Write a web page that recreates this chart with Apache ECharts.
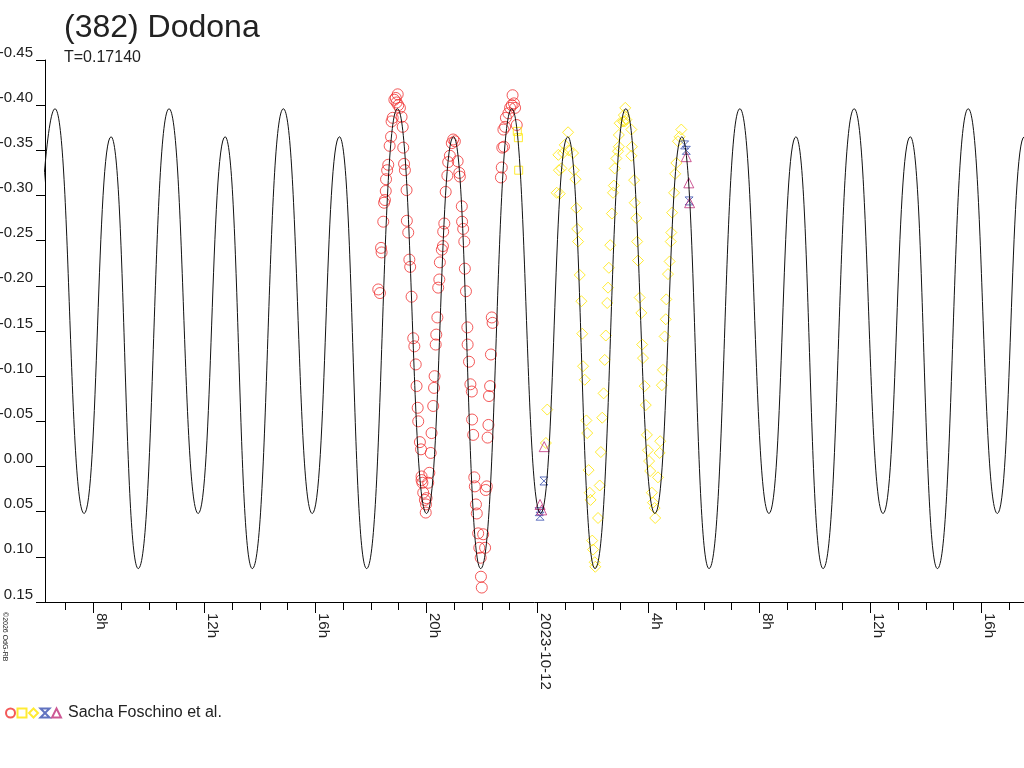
<!DOCTYPE html>
<html><head><meta charset="utf-8">
<script src="https://cdn.jsdelivr.net/npm/echarts@6/dist/echarts.min.js"></script>
<style>html,body{margin:0;padding:0;background:#fff}#c{width:1024px;height:768px}</style>
</head><body><div id="c"></div><script>
const FONT = '"Liberation Sans", Arial, sans-serif';
const TXT = '#222';

// Time axis: hours since 2023-10-11 00:00 UT
const xTickValues = [8, 12, 16, 20, 24, 28, 32, 36, 40];
const xTickLabels = ['8h', '12h', '16h', '20h', '2023-10-12', '4h', '8h', '12h', '16h'];
const hourTicks = [7,8,9,10,11,12,13,14,15,16,17,18,19,20,21,22,23,24,25,26,27,28,29,30,31,32,33,34,35,36,37,38,39,40,41];

// Model lightcurve extrema
const curveTime = [5.51, 6.62, 7.67, 8.64, 9.62, 10.73, 11.78, 12.75, 13.73, 14.85, 15.89, 16.87, 17.85,
  18.96, 20.01, 20.98, 21.96, 23.08, 24.12, 25.10, 26.08, 27.19, 28.24, 29.21, 30.19,
  31.30, 32.35, 33.32, 34.30, 35.42, 36.46, 37.44, 38.42, 39.53, 40.58, 41.55, 42.53];
const curveMag = [0.113, -0.396, 0.052, -0.365, 0.113, -0.396, 0.052, -0.365, 0.113, -0.396, 0.052, -0.365, 0.113,
  -0.396, 0.052, -0.365, 0.113, -0.396, 0.052, -0.365, 0.113, -0.396, 0.052, -0.365, 0.113,
  -0.396, 0.052, -0.365, 0.113, -0.396, 0.052, -0.365, 0.113, -0.396, 0.052, -0.365, 0.113];

// Observations [time (h), relative magnitude]
const redPoints = [[18.27,-0.196],[18.33,-0.192],[18.37,-0.242],[18.39,-0.237],[18.45,-0.271],[18.48,-0.292],[18.51,-0.295],[18.54,-0.305],[18.55,-0.318],[18.59,-0.328],[18.63,-0.334],[18.68,-0.355],[18.73,-0.365],[18.75,-0.382],[18.79,-0.386],[18.85,-0.406],[18.90,-0.408],[18.93,-0.403],[18.97,-0.412],[18.99,-0.400],
[19.05,-0.397],[19.11,-0.387],[19.15,-0.376],[19.17,-0.353],[19.20,-0.335],[19.23,-0.328],[19.29,-0.306],[19.30,-0.272],[19.35,-0.259],[19.39,-0.229],[19.42,-0.221],[19.47,-0.188],[19.53,-0.142],[19.57,-0.133],[19.62,-0.113],[19.65,-0.089],[19.69,-0.065],[19.71,-0.050],[19.77,-0.027],[19.81,-0.019],[19.83,0.011],[19.86,0.018],[19.89,0.029],[19.95,0.037],[19.98,0.051],
[19.99,0.042],[20.01,0.035],[19.83,0.015],[20.07,0.018],[20.11,0.007],[20.16,-0.015],[20.19,-0.037],[20.25,-0.067],[20.28,-0.087],[20.30,-0.100],[20.34,-0.135],[20.36,-0.146],[20.40,-0.165],[20.43,-0.198],[20.47,-0.207],[20.49,-0.226],[20.56,-0.240],[20.60,-0.244],[20.61,-0.260],[20.65,-0.269],[20.70,-0.304],[20.76,-0.322],[20.79,-0.337],[20.85,-0.344],[20.92,-0.358],[20.97,-0.362],
[21.03,-0.360],[21.13,-0.338],[21.19,-0.325],[21.21,-0.321],[21.28,-0.288],[21.29,-0.271],[21.33,-0.263],[21.37,-0.249],[21.39,-0.219],[21.43,-0.194],[21.48,-0.154],[21.49,-0.135],[21.54,-0.116],[21.59,-0.091],[21.64,-0.083],[21.65,-0.052],[21.69,-0.035],[21.73,0.012],[21.75,0.022],[21.79,0.042],[21.82,0.052],[21.87,0.074],[21.91,0.090],[21.96,0.101],[21.97,0.122],[22.00,0.134],
[22.05,0.075],[22.12,0.090],[22.14,0.026],[22.18,0.022],[22.21,-0.032],[22.24,-0.046],[22.26,-0.078],[22.30,-0.089],[22.33,-0.124],[22.36,-0.165],[22.39,-0.159],
[22.69,-0.320],[22.72,-0.331],[22.74,-0.353],[22.78,-0.373],[22.80,-0.354],[22.84,-0.376],[22.87,-0.386],[22.96,-0.391],[23.02,-0.397],[23.08,-0.400],[23.11,-0.411],[23.16,-0.402],[23.20,-0.397],[23.26,-0.378]];

const yellowSquares = [[23.28,-0.371],[23.32,-0.364],[23.33,-0.328]];

const yellowDiamonds = [[24.31,-0.026],[24.36,-0.063],[24.70,-0.303],[24.76,-0.345],[24.78,-0.328],[24.81,-0.302],[24.87,-0.330],[24.93,-0.347],[24.99,-0.356],[25.11,-0.370],[25.13,-0.350],[25.29,-0.347],[25.32,-0.328],[25.38,-0.318],[25.41,-0.286],[25.44,-0.263],[25.47,-0.249],[25.53,-0.212],[25.59,-0.183],[25.62,-0.147],[25.65,-0.111],[25.71,-0.096],[25.77,-0.051],[25.80,-0.037],[25.85,0.004],[25.89,0.029],[25.92,0.037],[25.98,0.082],[26.01,0.092],[26.07,0.106],[26.09,0.111],
[26.19,0.057],[26.25,0.021],[26.29,-0.016],[26.34,-0.054],[26.39,-0.081],[26.43,-0.118],[26.47,-0.145],[26.52,-0.181],[26.55,-0.198],[26.58,-0.220],[26.63,-0.245],[26.69,-0.280],[26.73,-0.303],[26.76,-0.311],[26.79,-0.330],[26.85,-0.341],[26.91,-0.349],[26.94,-0.367],[26.97,-0.380],[27.09,-0.382],
[27.12,-0.389],[27.15,-0.382],[27.17,-0.397],[27.21,-0.384],[27.39,-0.373],[27.41,-0.354],[27.39,-0.344],[26.94,-0.354],
[27.49,-0.317],[27.51,-0.292],[27.57,-0.275],[27.60,-0.249],[27.63,-0.228],[27.69,-0.187],[27.75,-0.170],[27.78,-0.135],[27.81,-0.120],[27.87,-0.089],[27.91,-0.068],[27.95,-0.035],[27.99,-0.018],[28.03,-0.006],[28.07,0.005],[28.13,0.029],[28.17,0.040],[28.23,0.046],[28.25,0.057],
[28.35,0.012],[28.41,-0.015],[28.43,-0.028],[28.49,-0.090],[28.53,-0.107],[28.59,-0.144],[28.63,-0.163],[28.65,-0.185],[28.71,-0.213],[28.77,-0.227],[28.81,-0.249],[28.83,-0.259],[28.86,-0.281],[28.93,-0.303],[28.97,-0.324],[29.01,-0.336],[29.07,-0.360],[29.13,-0.365],[29.19,-0.373]];

const blueHourglass = [[24.07,0.050],[24.10,0.055],[24.24,0.016],[29.31,-0.356],[29.37,-0.350],[29.47,-0.294]];
const magentaTriangles = [[24.10,0.042],[24.16,0.048],[24.25,-0.022],[29.37,-0.343],[29.46,-0.314],[29.49,-0.292]];

const LEGEND_TEXT = 'Sacha Foschino et al.';
const seriesNames = ['s1', 's2', 's3', 's4', LEGEND_TEXT];

function obs(name, data, symbol, size, color) {
  return {
    type: 'scatter', name: name, data: data, symbol: symbol, symbolSize: size,
    itemStyle: { color: 'rgba(0,0,0,0)', borderColor: color, borderWidth: 1 },
    emphasis: { disabled: true }, z: 2
  };
}

const chart = echarts.init(document.getElementById('c'), null, { renderer: 'canvas' });
chart.setOption({
  animation: false,
  backgroundColor: '#fff',
  title: [
    { text: '(382) Dodona', left: 64, top: 12, padding: 0,
      textStyle: { fontSize: 32, fontWeight: 'normal', color: TXT, fontFamily: FONT } },
    { text: 'T=0.17140', left: 64, top: 50, padding: 0,
      textStyle: { fontSize: 16, fontWeight: 'normal', color: TXT, fontFamily: FONT } }
  ],
  legend: {
    left: 5, top: 705, padding: 0, itemWidth: 9, itemHeight: 9, itemGap: 0.5,
    selectedMode: false, data: seriesNames,
    formatter: function (n) { return n === LEGEND_TEXT ? n : ''; },
    textStyle: { fontSize: 16, color: TXT, fontFamily: FONT, padding: [0, 0, 0, 2] }
  },
  grid: { left: 45, right: 0, top: 60, bottom: 166, containLabel: false, outerBoundsMode: 'none' },
  xAxis: [
    { type: 'value', min: 6.26, max: 41.54, position: 'bottom',
      axisLine: { show: true, onZero: false, lineStyle: { color: '#000', width: 1 } },
      axisTick: { show: true, customValues: hourTicks, length: 8, lineStyle: { color: '#000' } },
      axisLabel: { customValues: xTickValues, rotate: -90, margin: 11, align: 'left', verticalAlign: 'bottom',
        formatter: function (v) { const i = xTickValues.indexOf(v); return i >= 0 ? xTickLabels[i] : ''; },
        fontSize: 15, color: TXT, fontFamily: FONT },
      splitLine: { show: false } },
    { type: 'value', min: 6.26, max: 41.54, position: 'bottom',
      axisLine: { show: false, onZero: false },
      axisTick: { show: true, customValues: xTickValues, length: 11, lineStyle: { color: '#000' } },
      axisLabel: { show: false }, splitLine: { show: false } }
  ],
  yAxis: {
    type: 'value', inverse: true, min: -0.45, max: 0.15, interval: 0.05,
    axisLine: { show: true, onZero: false, lineStyle: { color: '#000', width: 1 } },
    axisTick: { show: true, length: 9, lineStyle: { color: '#000' } },
    axisLabel: { margin: 12, verticalAlign: 'bottom', fontSize: 15, color: TXT, fontFamily: FONT,
      formatter: function (v) { return Math.abs(v) < 1e-9 ? '0.00' : v.toFixed(2); } },
    splitLine: { show: false }
  },
  graphic: [
    { type: 'text', x: 1, y: 612, rotation: -Math.PI / 2, silent: true,
      style: { text: '\u00A92026 OdG-RB', fontSize: 7, fill: TXT, fontFamily: FONT, align: 'left', verticalAlign: 'bottom' } }
  ],
  series: [
    { type: 'line', name: 'model', data: curveTime.map(function (t, i) { return [t, curveMag[i]]; }),
      symbol: 'none', smooth: 0.5, smoothMonotone: 'x', lineStyle: { color: '#111', width: 1 },
      silent: true, z: 3 },
    obs(seriesNames[0], redPoints, 'circle', 11, '#f03030'),
    obs(seriesNames[1], yellowSquares, 'rect', 8, '#ffe600'),
    obs(seriesNames[2], yellowDiamonds, 'diamond', 11, '#ffe600'),
    obs(seriesNames[3], blueHourglass, 'path://M0,0L10,0L0,10L10,10Z', 8, '#3a50b0'),
    obs(seriesNames[4], magentaTriangles, 'triangle', 10, '#c0307a')
  ]
});
</script></body></html>
